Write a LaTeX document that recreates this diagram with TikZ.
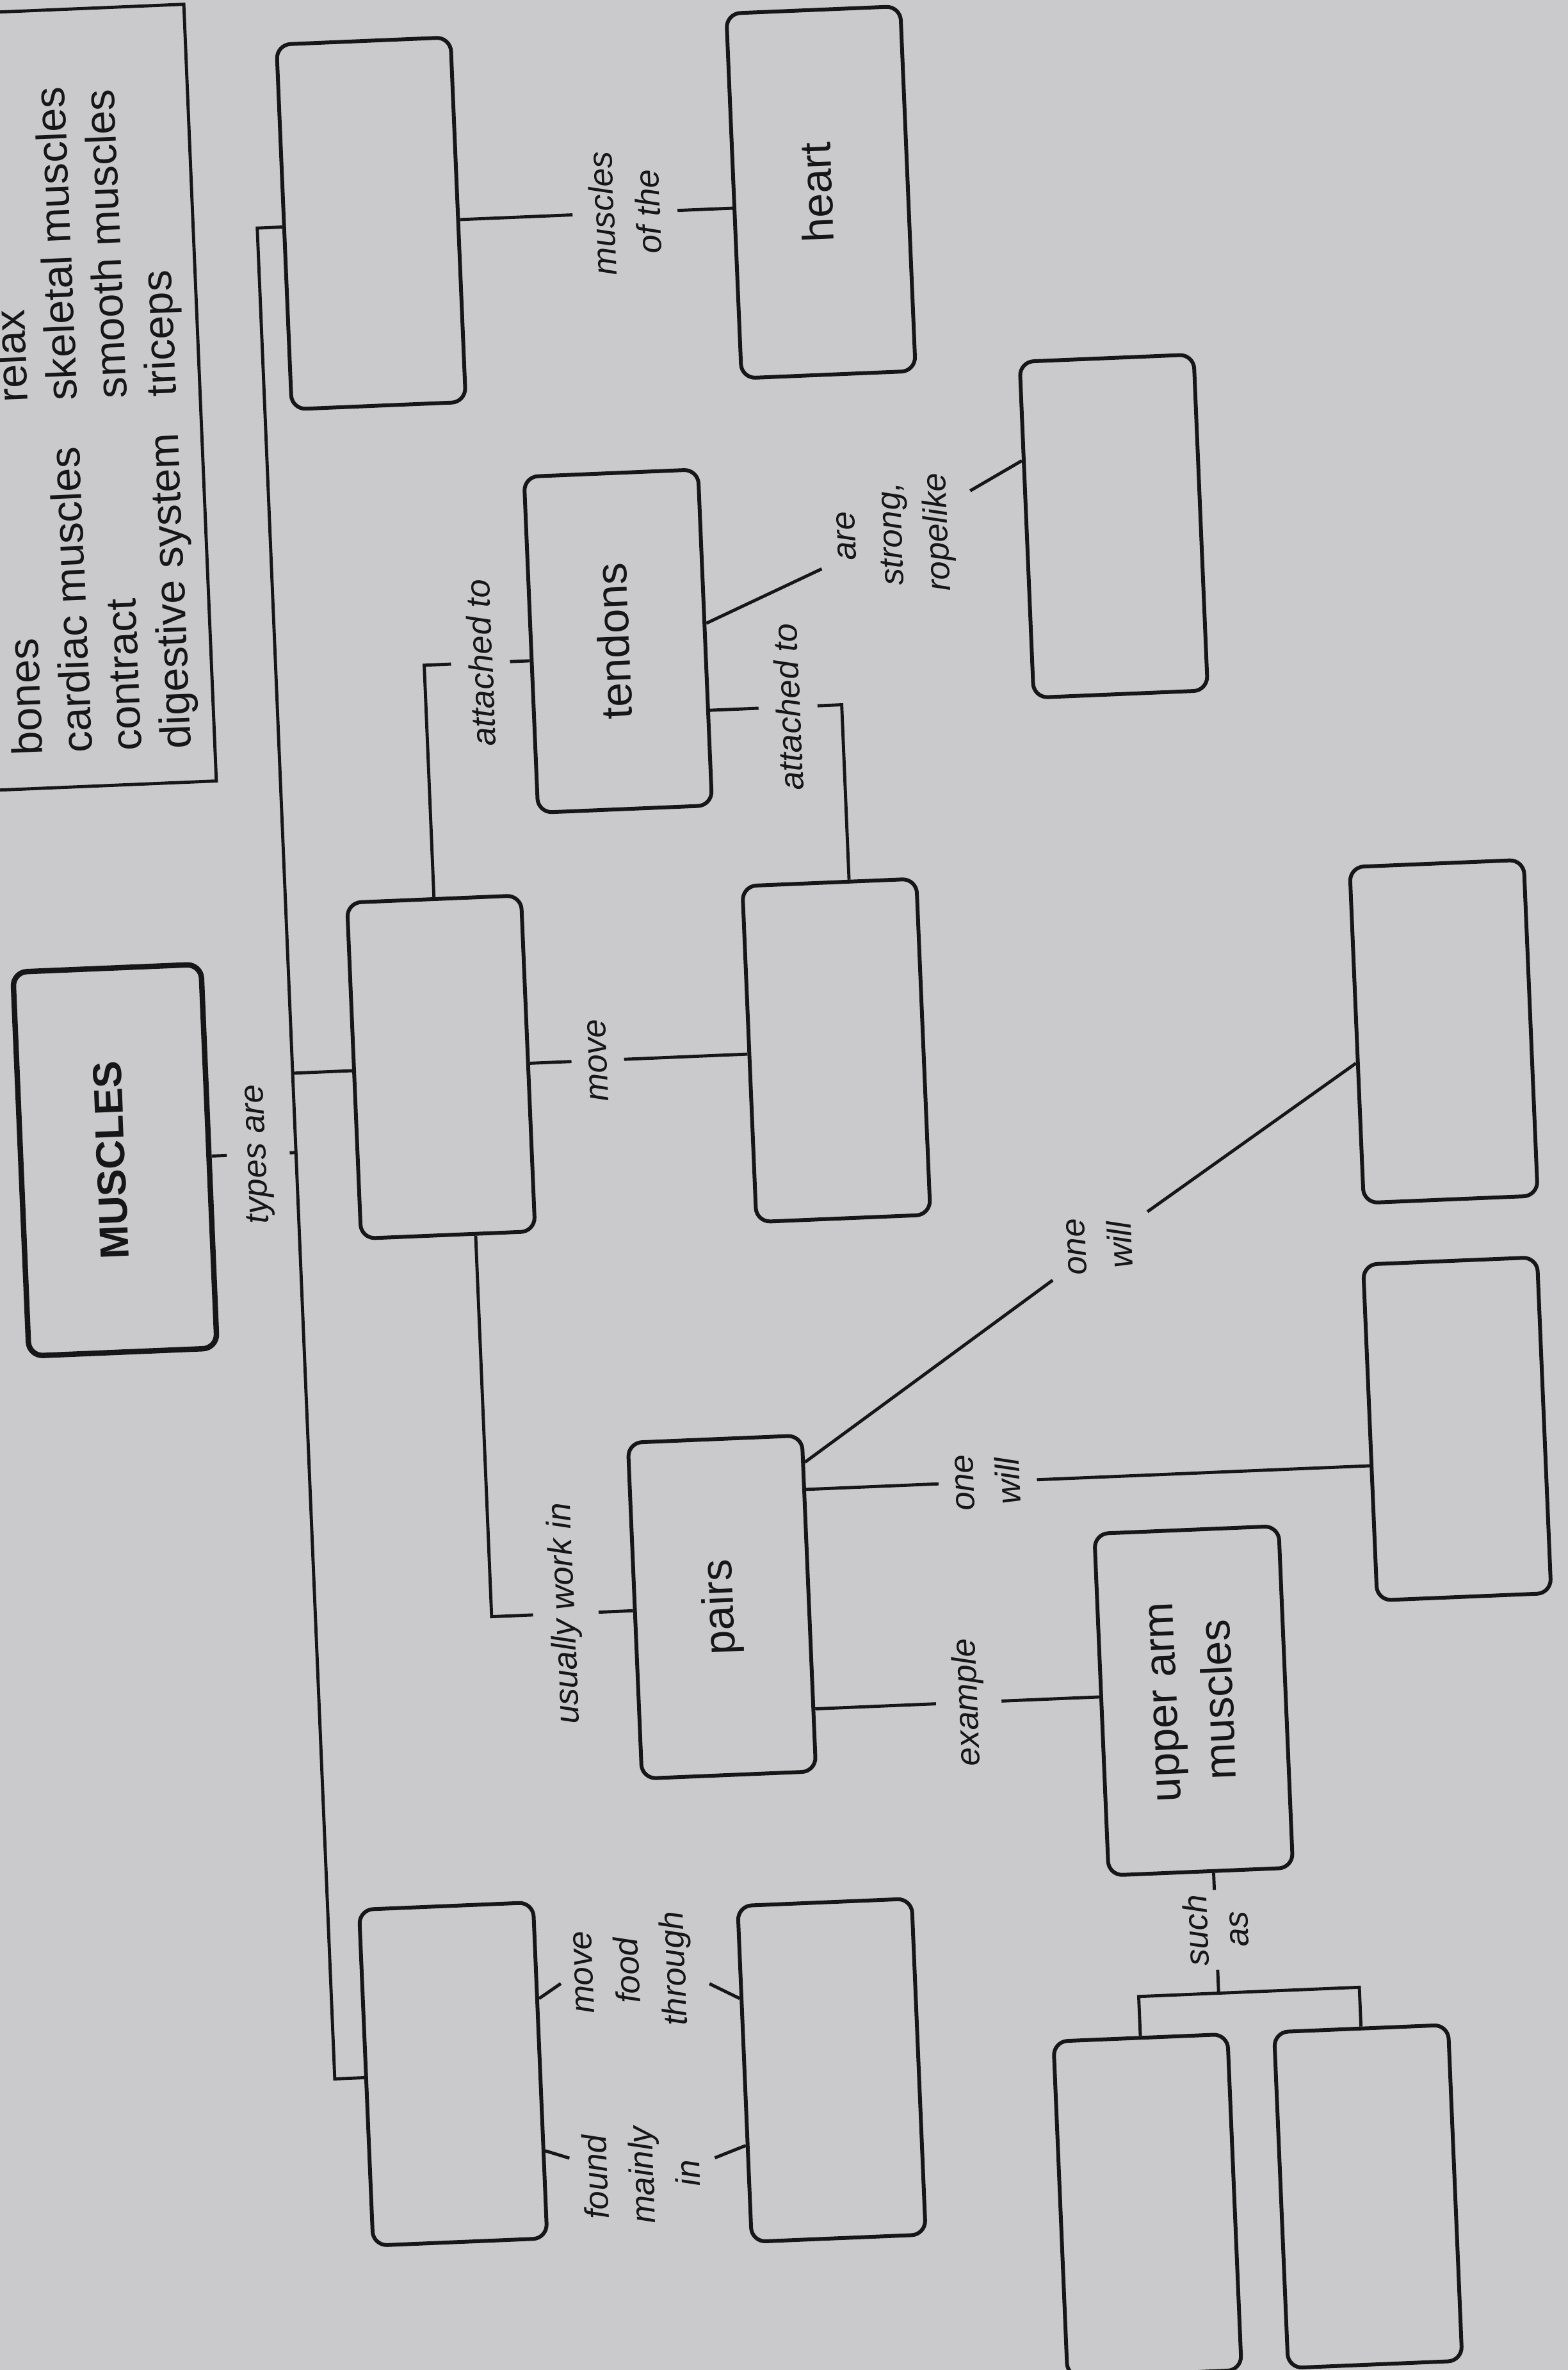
\documentclass[tikz,border=0pt]{standalone}
\usepackage{fontspec}
\setmainfont{Liberation Sans}
\usepackage{graphicx}
\usetikzlibrary{positioning,calc}

\definecolor{paper}{RGB}{202,202,204}
\definecolor{ink}{RGB}{22,22,22}

% upright text turned to read bottom to top
\newcommand{\vtxt}[1]{\rotatebox{90}{\begin{tabular}{@{}c@{}}#1\end{tabular}}}

\tikzset{
    box/.style={rectangle, draw=ink, rounded corners=0.22cm, line width=1.7pt,
        minimum width=2.72cm, minimum height=5.25cm, inner sep=0pt, text=ink,
        font=\fontsize{19.5}{25}\selectfont},
    lbl/.style={rotate=90, align=center, inner xsep=0.06cm, inner ysep=0.26cm,
        text=ink, font=\fontsize{15}{20.5}\selectfont\itshape},
    link/.style={draw=ink, line width=1.4pt},
}

\begin{document}
\begin{tikzpicture}
    \useasboundingbox (0,0) rectangle (24.49,-37.01);
    \fill[paper] (0,0) rectangle (24.49,-37.01);

    \begin{scope}[rotate around={2.4:(12.24,-18.5)}, transform shape]

        %-----Word bank-----
        \draw[link] (-1,0.31) rectangle (3.65,-11.83);
        \node [rotate=90, anchor=north west, inner sep=0pt, text=ink,
            font=\fontsize{19}{22}\selectfont] (bank) at (0.41,-11.31) {%
            \begin{tabular}{@{}p{5.51cm}@{}l@{}}
                bones & relax \\
                cardiac muscles & skeletal muscles \\
                contract & smooth muscles \\
                digestive system & triceps
            \end{tabular}
        };

        %-----Concepts-----
        % Muscles
        \node [box, minimum width=2.94cm, minimum height=6cm, line width=2.4pt,
            font=\fontsize{18}{22}\selectfont\bfseries] (muscles) at (1.82,-17.68) {\vtxt{MUSCLES}};

        % Types of muscle
        \node [box, minimum height=5.7cm] (cardiac) at (6.43,-3.23) {};
        \node [box] (skeletal) at (6.97,-16.44) {};
        \node [box] (smooth) at (6.50,-32.16) {};

        % Heart
        \node [box, minimum height=5.7cm, right=4.26cm of cardiac, yshift=0.19cm] (heart) {\vtxt{heart}};

        % Tendons
        \node [box] (tendons) at (10.01,-9.91) {\vtxt{tendons}};
        \node [box] (ropes) at (17.82,-8.44) {};

        % Bones
        \node [box, right=3.4cm of skeletal] (bones) {};

        % Pairs
        \node [box] (pairs) at (11.00,-25.05) {\vtxt{pairs}};
        \node [box] (contract) at (22.64,-16.54) {};
        \node [box] (relax) at (22.59,-22.75) {};

        % Upper arm muscles
        \node [box, minimum width=2.88cm, minimum height=5.34cm] (upper) at (18.30,-26.82) {\vtxt{upper arm\\muscles}};
        \node [box] (biceps) at (17.25,-34.67) {};
        \node [box, right=0.67cm of biceps] (triceps) {};

        % Digestive system
        \node [box, right=3.13cm of smooth, yshift=-0.19cm] (digest) {};

        %-----Links-----
        % types are
        \coordinate (spine) at (4.65,-3.23);
        \node [lbl] (typesare) at (4.06,-17.68) {types are};
        \draw[link] (muscles.east) -- (typesare.north);
        \draw[link] (typesare.south) -- (typesare.south -| spine);
        \draw[link] (cardiac.west) -- (spine) -- (spine |- smooth.west) -- (smooth.west);
        \draw[link] (skeletal.west) -- (skeletal.west -| spine);

        % muscles of the
        \node [lbl] (ofthe) at (10.40,-3.23) {muscles\\of the};
        \draw[link] (cardiac.east) -- (ofthe.north);
        \draw[link] (ofthe.south) -- (ofthe.south -| heart.west);

        % attached to
        \node [lbl] (att1) at (7.85,-10.16) {attached to};
        \draw[link] (skeletal.north) |- (att1.north);
        \draw[link] (att1.south) -- (att1.south -| tendons.west);

        \node [lbl] (att2) at (12.62,-11.05) {attached to};
        \draw[link] (att2.north) -- (att2.north -| tendons.east);
        \draw[link] (att2.south) -| ([xshift=0.31cm]bones.north);

        % are strong, ropelike
        \node [lbl] (strong) at (14.42,-8.42) {are\\strong,\\ropelike};
        \draw[link] ([yshift=0.22cm]tendons.east) -- (strong);
        \draw[link] (strong) -- ([yshift=1.08cm]ropes.west);

        % move
        \node [lbl] (move) at (9.42,-16.44) {move};
        \draw[link] (skeletal.east) -- (move.north);
        \draw[link] (move.south) -- (bones.west);

        % usually work in
        \node [lbl] (usually) at (8.56,-25.05) {usually work in};
        \draw[link] ([xshift=0.43cm]skeletal.south) |- (usually.north);
        \draw[link] (usually.south) -- (pairs.west);

        % one will
        \node [lbl] (will1) at (17.13,-19.66) {one\\will};
        \draw[link] ([yshift=-0.45cm]pairs.north east) -- (will1);
        \draw[link] (will1) -- ([yshift=-0.44cm]contract.west);

        \node [lbl] (will2) at (15.23,-23.27) {one\\will};
        \draw[link] (pairs.east |- will2) -- (will2.north);
        \draw[link] (will2.south) -- (relax.west |- will2);

        % example
        \node [lbl] (example) at (14.79,-26.70) {example};
        \draw[link] (pairs.east |- example) -- (example.north);
        \draw[link] (example.south) -- (upper.west |- example);

        % such as
        \node [lbl, font=\fontsize{15}{18}\selectfont\itshape] (suchas) at (18.50,-30.41) {such\\as};
        \coordinate (fork) at (18.50,-31.40);
        \draw[link] (upper.south -| suchas) -- (suchas.east);
        \draw[link] (suchas.west) -- (fork);
        \draw[link] (biceps.north) |- (fork) -| (triceps.north);

        % move food through / found mainly in
        \node [lbl] (mfood) at (9.38,-30.66) {move\\food\\through};
        \node [lbl] (found) at (9.37,-33.86) {found\\mainly\\in};
        \coordinate (mf-a) at (8.24,-30.82);
        \coordinate (mf-b) at (10.56,-30.92);
        \coordinate (fm-a) at (8.26,-33.55);
        \coordinate (fm-b) at (10.53,-33.64);
        \draw[link] ([yshift=1.12cm]smooth.east) -- (mf-a);
        \draw[link] (mf-b) -- ([yshift=1.18cm]digest.west);
        \draw[link] ([yshift=-1.26cm]smooth.east) -- (fm-a);
        \draw[link] (fm-b) -- ([yshift=-1.12cm]digest.west);

    \end{scope}
\end{tikzpicture}
\end{document}
